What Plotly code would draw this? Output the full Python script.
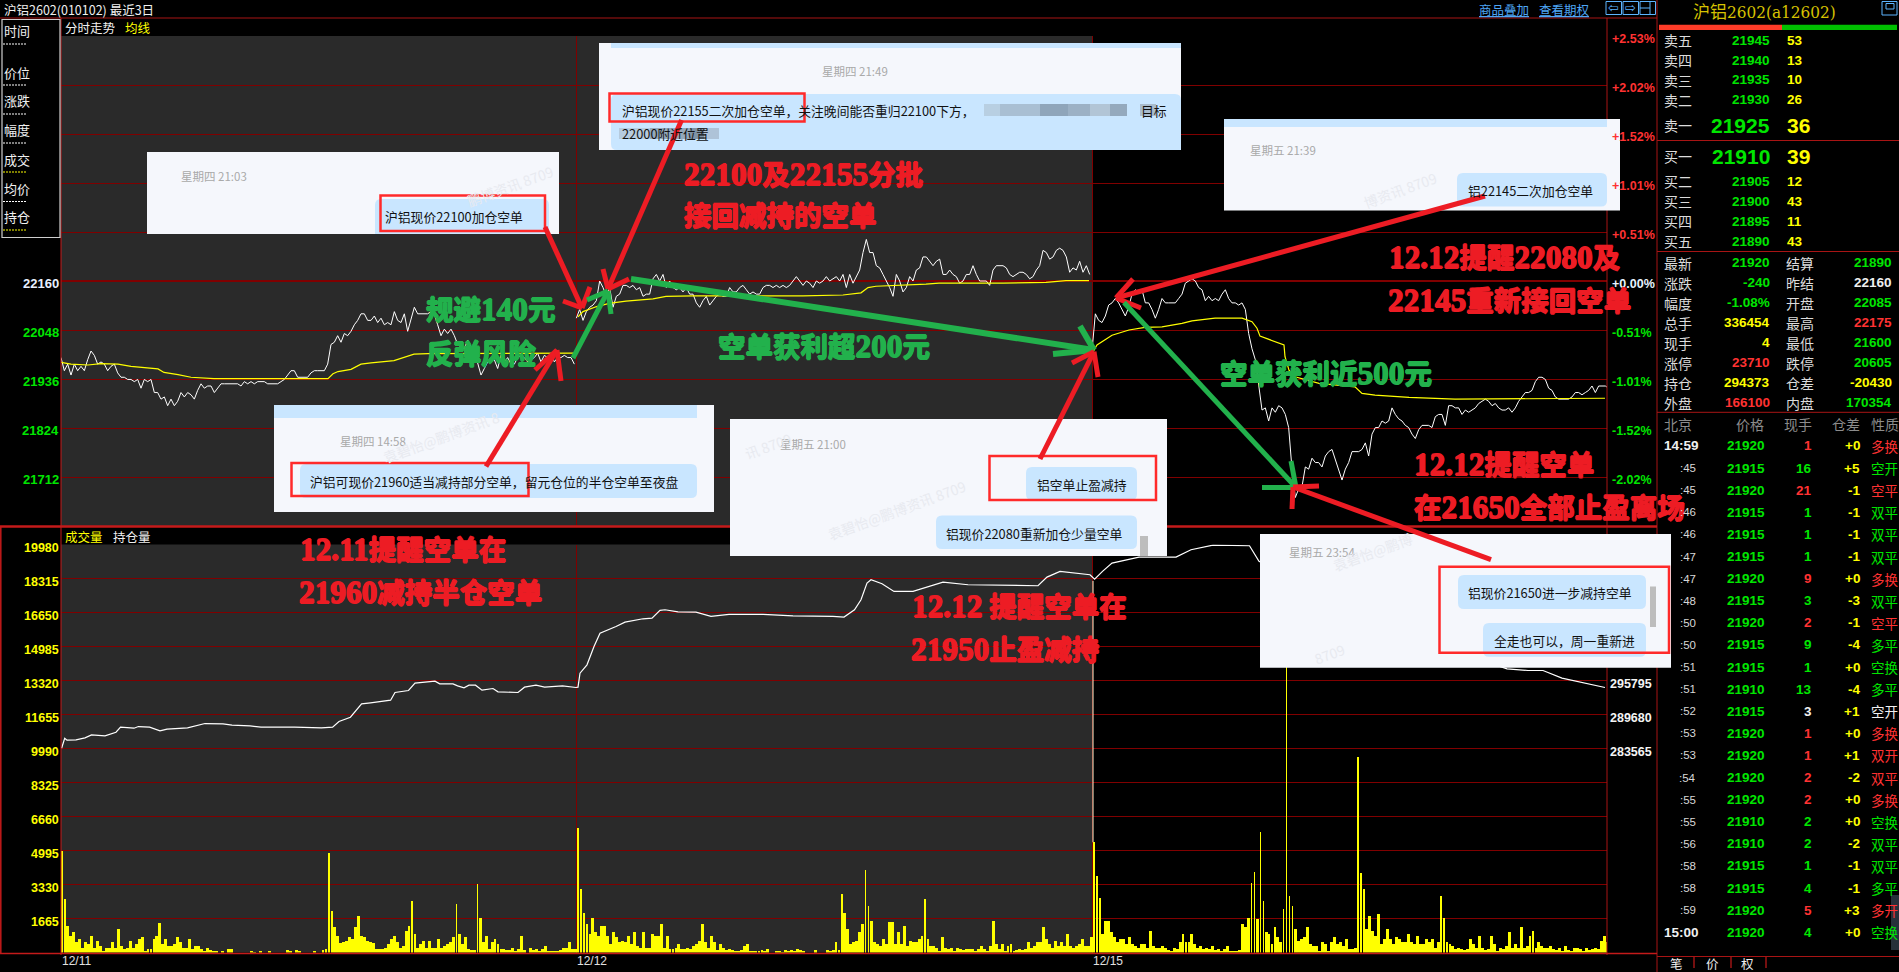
import re
import plotly.graph_objects as go

W, H = 1899, 972
# ---------------- data ----------------
price_d1 = [21985,21955,21970,21945,21970,21955,21965,21955,21980,22000,21990,21970,21975,21970,21955,21965,21970,21950,21940,21940,21935,21935,21930,21935,21915,21935,21930,21935,21905,21905,21890,21895,21875,21890,21875,21885,21905,21895,21905,21900,21890,21910,21925,21915,21920,21920,21905,21915,21925,21925,21925,21925,21925,21925,21920,21930,21925,21930,21925,21930,21930,21930,21925,21925,21925,21925,21930,21935,21945,21955,21955,21940,21940,21940,21940,21950,21955,21955,21955,21955,21970,22015,22020,22035,22020,22040,22035,22045,22060,22070,22085,22085,22070,22070,22080,22065,22075,22060,22065,22060,22090,22070,22065,22085,22045,22070,22100,22085,22085,22085,22085,22090,22085,22060,22035,22050,22040,22050,22035,22015,22010,22005,22025,22010,22000,21970,21945,21960,21975,21980,21980,21960,21990,21975,21985,21970,21970,21985,21990,21985,21975,21980,21985,21995,21975,21990,21985,21995,21975,21985,21985,21990,21985,21985,21970]
price_d2 = [22075,22095,22070,22090,22100,22105,22115,22160,22145,22125,22145,22100,22125,22130,22150,22150,22145,22150,22140,22145,22125,22130,22130,22165,22175,22160,22175,22145,22160,22145,22140,22145,22135,22145,22130,22130,22110,22100,22115,22125,22105,22115,22125,22130,22125,22125,22145,22135,22135,22145,22150,22140,22130,22135,22130,22130,22145,22150,22150,22145,22150,22145,22150,22145,22150,22160,22170,22160,22150,22160,22155,22145,22160,22155,22160,22170,22160,22165,22170,22160,22175,22145,22175,22155,22170,22185,22225,22255,22225,22225,22195,22190,22175,22160,22145,22125,22175,22160,22135,22145,22170,22160,22185,22190,22215,22215,22205,22195,22205,22210,22175,22175,22185,22175,22170,22155,22160,22175,22175,22195,22175,22160,22160,22160,22150,22185,22195,22195,22195,22190,22175,22170,22175,22180,22180,22175,22165,22170,22185,22195,22230,22225,22210,22215,22230,22235,22230,22215,22180,22190,22185,22205,22180,22195,22175]
price_d3 = [22000,22085,22070,22065,22080,22105,22110,22120,22110,22095,22080,22100,22130,22140,22135,22140,22110,22110,22095,22075,22095,22120,22110,22110,22110,22110,22120,22130,22155,22160,22165,22160,22145,22140,22115,22125,22115,22120,22115,22130,22140,22120,22110,22110,22105,22110,22095,22040,22005,21980,21925,21865,21870,21840,21870,21860,21875,21870,21855,21825,21730,21665,21685,21690,21735,21730,21755,21745,21745,21735,21760,21770,21775,21750,21730,21705,21730,21745,21770,21770,21770,21775,21790,21760,21810,21825,21825,21840,21835,21840,21870,21855,21845,21840,21830,21825,21810,21800,21820,21830,21830,21830,21825,21850,21855,21855,21830,21875,21875,21870,21870,21855,21865,21860,21865,21870,21880,21885,21890,21885,21875,21880,21870,21865,21865,21870,21860,21870,21885,21895,21905,21905,21910,21930,21940,21940,21935,21915,21910,21895,21890,21890,21890,21890,21895,21905,21905,21900,21905,21910,21920,21905,21920,21920,21920,21915,21915]

avg_t_d1 = [0,10,27,40,57,70,97,103,117,130,153,267,272,277,290,300,310,333,353,367,513]
avg_d1 = [21974,21970,21968,21971,21970,21965,21959,21951,21946,21940,21937,21937,21948,21953,21958,21970,21973,21978,21993,21994,21995]
avg_t_d2 = [517,522,535,548,565,592,605,632,742,782,800,807,815,828,865,878,942,985,1005,1028]
avg_d2 = [22078,22090,22101,22109,22114,22119,22125,22126,22126,22128,22133,22145,22148,22149,22153,22155,22155,22157,22161,22161]
avg_t_d3 = [1032,1036,1051,1068,1084,1101,1121,1131,1154,1181,1191,1196,1199,1214,1223,1224,1228,1234,1258,1294,1301,1314,1348,1394,1544]
avg_d3 = [21998,22014,22036,22048,22054,22055,22063,22069,22075,22075,22067,22052,22034,22021,22014,21987,21956,21941,21926,21918,21903,21899,21894,21890,21892]

oi_t = [0.6,3.7,6,15,24,30.5,44,55,59.5,73,77.4,88.6,99,106,126.5,144,162,171,189,200,233.6,260.4,271.6,278,289.4,300.6,309.5,318.5,329.6,334,347.5,354,374,378.7,392,396.6,403,408,414.5,421,432,437,457,463.5,475,483.6,501.5,515,
        517,519,526,533,539,555,564,582,591,599,604,617,635,650,668,702,732,772,783,793.5,800,806,810,821,833,852,882,907,968,977,986,999,1029,
        1033.6,1041.5,1051,1078,1115,1130,1152,1188.5,1198,1260,1340,1420,1446,1467,1482,1501,1525,1544]
oi = [283615,285415,285055,285115,285475,286015,285835,286495,287395,287215,287515,287395,286735,287035,287275,288055,287995,287755,287635,287395,287395,287275,287395,288415,289195,291595,291775,292015,292255,293635,293995,295315,295675,295195,295195,294835,294475,294955,294955,294055,294355,293755,293635,294595,294955,294595,294835,294535,
      294595,297115,298615,301915,304315,305515,306295,306895,307015,308395,308515,308155,308095,307315,307675,307675,307435,307315,307195,308515,310315,313315,313915,313195,311815,311815,313495,313015,312835,312835,314395,315415,314815,
      314035,315415,316915,317995,317995,319315,320155,320035,317215,311515,304915,299515,297895,297595,297595,296215,295315,294535]

vol_a = [4995,2610,1300,815,980,490,650,245,490,410,815,245,570,325,80,245,245,490,245,1140,325,160,245,570,245,410,650,735,80,160,160,650,815,1435,410,650,325,325,410,735,490,245,245,650,160,325,325,195,80,245,130,65,80,0,50,0,160,160,0,0,0,0,0,0,80,30,0,80,0,0,50,0,0,0,0,0,130,80,0,130,80,0,0,0,0,80,0,0,130,160,
         4860,2040,1225,815,455,490,570,735,650,1225,1795,815,735,570,490,455,160,195,195,245,410,650,815,490,245,325,1060,1305,2530,900,245,410,570,245,570,245,245,650,245,325,410,490,735,2365,900,410,735,195,130,130,3340,1710,490,815,160,490,650,410,195,195,130,130,245,80,195,815,130,0,245,130,160,80,195,295,80,50,50,80,130,245,245,490,195,160,
         6115,3100,1955,1385,900,1710,980,815,1305,1305,815,410,980,735,490,570,490,815,410,980,325,245,980,245,245,900,815,815,1385,245,815,160,195,245,410,160,160,245,160,325,410,570,1385,490,245,815,490,130,410,245,130,160,130,80,80,130,325,410,80,80,80,50,130,80,160,0,0,80,80,30,130,50,130,80,195,130,50,0,0,0,130,0,0,0,130,80,130]
vol_b = [490,130,2850,1955,1140,410,490,570,980,1385,4040,2280,1550,490,410,325,650,410,1470,1470,410,980,410,1305,325,570,490,490,650,815,2610,650,325,295,245,80,735,245,160,245,80,245,195,130,160,195,160,80,160,325,195,80,325,1550,410,160,410,80,325,410,80,130,195,130,160,490,245,325,490,490,1225,650,410,245,570,325,490,325,900,325,245,325,410,650,325,325,735,
         5400,3750,2690,900,1550,1550,980,735,490,650,650,410,735,410,325,245,410,410,245,1060,325,245,245,325,245,130,80,245,160,490,900,490,490,900,410,245,325,160,245,160,325,130,160,80,195,295,80,50,50,130,1385,1225,1710,3425,3960,1630,5900,2530,980,900,410,1225,735,490,2120,14200,2770,2280,1140,570,650,735,1225,410,325,325,80,490,410,80,490,735,410,490,325,650,160,195,245,9560,3910,3100,1140,1795,1060,815,1875,410,650,1140,650,410,735,650,490,490,900,490,410,815,410,410,650,490,650,245,490,2770,1710,490,410,325,160,245,160,130,160,650,410,245,815,245,130,160,815,410,80,245,195,325,980,245,410,245,1225,245,325,815,1060,245,490,325,245,245,325,195,130,245,80,325,130,80,245,245,160,80,245,130,195,245,160,570,815,490]
open_spike = [5400, 18200]

price_ticks = [22160,22048,21936,21824,21712]
price_grid = [22720,22608,22496,22384,22272,22160,22048,21936,21824,21712,21600]
pct_labels = ["+2.53%","+2.02%","+1.52%","+1.01%","+0.51%","+0.00%","-0.51%","-1.01%","-1.52%","-2.02%"]
vol_ticks = [19980,18315,16650,14985,13320,11655,9990,8325,6660,4995,3330,1665]
oi_ticks = [295795,289680,283565]
day_labels = ["12/11","12/12","12/15"]
day_t = [0,515.33,1031]

ask_labels = ["卖五","卖四","卖三","卖二","卖一"]
ask_prices = ["21945","21940","21935","21930","21925"]
ask_qty = ["53","13","10","26","36"]
bid_labels = ["买一","买二","买三","买四","买五"]
bid_prices = ["21910","21905","21900","21895","21890"]
bid_qty = ["39","12","43","11","43"]
stat_l = ["最新","涨跌","幅度","总手","现手","涨停","持仓","外盘"]
stat_lv = ["21920","-240","-1.08%","336454","4","23710","294373","166100"]
stat_lc = ["g","g","g","y","y","r","y","r"]
stat_r = ["结算","昨结","开盘","最高","最低","跌停","仓差","内盘"]
stat_rv = ["21890","22160","22085","22175","21600","20605","-20430","170354"]
stat_rc = ["g","w","g","r","g","g","y","g"]

tick_time = ["14:59",":45",":45",":46",":46",":47",":47",":48",":50",":50",":51",":51",":52",":53",":53",":54",":55",":55",":56",":58",":58",":59","15:00"]
tick_price = [21920,21915,21920,21915,21915,21915,21920,21915,21920,21915,21915,21910,21915,21920,21920,21920,21920,21910,21910,21915,21915,21920,21920]
tick_qty = [1,16,21,1,1,1,9,3,2,9,1,13,3,1,1,2,2,2,2,1,4,5,4]
tick_qc = "rgrgggrgrgggwrrrrggggrg"
tick_oi = ["+0","+5","-1","-1","-1","-1","+0","-3","-1","-4","+0","-4","+1","+0","+1","-2","+0","+0","-2","-1","-1","+3","+0"]
tick_kind = ["多换","空开","空平","双平","双平","双平","多换","双平","空平","多平","空换","多平","空开","多换","双开","双平","多换","空换","双平","双平","多平","多开","空换"]
tick_kc = "rgrgggrgrgggwrrrrggggrg"

# ---------------- styling ----------------
COL = {"g":"#00e600","r":"#ff3232","y":"#ffff00","w":"#f0f0f0"}
CJK = "Noto Sans CJK SC"
NUM = "Liberation Sans"
GRID = "#800000"
FRAME = "#a81414"
BRIGHT = "#c41a1a"
RED = "#ed1c24"
GREEN = "#22b14c"
BOX = "#f5f7fc"
BUB = "#c9e6ff"
shapes, ann = [], []

def px(x): return x / W
def py(y): return 1 - y / H

def text(x, y, s, size=13, color="#f0f0f0", anchor="left", family=CJK, weight="normal", angle=0, **kw):
    ann.append(dict(xref="paper", yref="paper", x=px(x), y=py(y), text=s, showarrow=False, xanchor=anchor,
                    yanchor="middle", textangle=angle, borderpad=0,
                    font=dict(size=size, color=color, family=family, weight=weight, **kw)))

def rect(x0, y0, x1, y1, fill=None, line=None, lw=0, layer="above"):
    shapes.append(dict(type="rect", xref="paper", yref="paper", x0=px(x0), x1=px(x1), y0=py(y0), y1=py(y1),
                       fillcolor=fill or "rgba(0,0,0,0)", line=dict(color=line or "rgba(0,0,0,0)", width=lw), layer=layer))

def seg(x0, y0, x1, y1, color=FRAME, lw=1, layer="above", dash=None):
    shapes.append(dict(type="line", xref="paper", yref="paper", x0=px(x0), x1=px(x1), y0=py(y0), y1=py(y1),
                       line=dict(color=color, width=lw, dash=dash or "solid"), layer=layer))

def arrow(x0, y0, x1, y1, h1, h2, color, lw=5):
    seg(x0, y0, x1, y1, color, lw)
    seg(h1[0], h1[1], x1, y1, color, lw)
    seg(h2[0], h2[1], x1, y1, color, lw)

def big(x, y, s, color, size=27.5):
    ds = round(size * 1.14, 1)
    html = re.sub(r"([0-9.]+)", lambda m: f'<span style="font-size:{ds}px">{m.group(1)}</span>', s)
    text(x, y, html, size=size, color=color, family=f"Liberation Serif, {CJK}", weight="bold",
         shadow=f"0.7px 0 0 {color}, -0.7px 0 0 {color}, 0 0.7px 0 {color}, 0 -0.7px 0 {color}")

def bubble(x0, y0, x1, y1):
    shapes.append(dict(type="path", xref="paper", yref="paper", layer="above", fillcolor=BUB, line=dict(width=0),
        path=f"M{px(x0+6)},{py(y0)} L{px(x1-6)},{py(y0)} Q{px(x1)},{py(y0)} {px(x1)},{py(y0+6)} L{px(x1)},{py(y1-6)} Q{px(x1)},{py(y1)} {px(x1-6)},{py(y1)} L{px(x0+6)},{py(y1)} Q{px(x0)},{py(y1)} {px(x0)},{py(y1-6)} L{px(x0)},{py(y0+6)} Q{px(x0)},{py(y0)} {px(x0+6)},{py(y0)} Z"))

def mark(x, y, s):
    text(x, y, s, size=14, color="#e8eaf0", anchor="center", angle=-20)

# dark background for the first two sessions
rect(61, 36, 1092, 526, "#2a2a2a", layer="below")
rect(61, 544.5, 1092, 952.5, "#2a2a2a", layer="below")

# frame
seg(0, 18, 1657, 18)
seg(61, 18, 61, 955, BRIGHT, 1)
seg(1607, 18, 1607, 955, FRAME, 1)
seg(1657, 0, 1657, 972, FRAME, 1)
seg(0, 526.5, 1657, 526.5, BRIGHT, 2.5)
seg(0, 953.5, 1657, 953.5, BRIGHT, 1.5)
seg(0.8, 526, 0.8, 953, BRIGHT, 1.5)
seg(61, 281, 1607, 281, GRID, 2, layer="below")

# header
text(3, 9, "沪铝2602(010102) 最近3日", 12.5)
text(64, 28, "分时走势", 12.5)
text(124, 28, "均线", 12.5, "#ffff00")
text(1478, 9, "<u>商品叠加</u>", 12.5, "#4ea6f5")
text(1538, 9, "<u>查看期权</u>", 12.5, "#4ea6f5")
for x0, s in ((1606, "⇦"), (1623, "⇨")):
    rect(x0, 1.5, x0 + 15.5, 14.5, None, "#5db4ff", 1)
    text(x0 + 7.8, 8, s, 13, "#5db4ff", "center", "DejaVu Sans")
rect(1640, 1.5, 1655.5, 14.5, None, "#5db4ff", 1)
seg(1640, 8, 1650, 8, "#5db4ff", 1)
seg(1650, 1.5, 1650, 14.5, "#5db4ff", 1)
text(64, 536, "成交量", 12.5, "#ffff00")
text(112, 536, "持仓量", 12.5)

# left legend box
rect(2, 19.5, 60, 237.5, "#000000", "#cfcfcf", 1.2)
for y, dy, s, c in [(31,44,"时间","#ffffff"),(72,85,"价位","#ffffff"),(101,114,"涨跌","#ffffff"),(129.5,143,"幅度","#ffffff"),
                    (159,172,"成交","#ffff00"),(188,201.5,"均价","#ffffff"),(216,230,"持仓","#ffff00")]:
    text(3, y, s, 13)
    seg(3, dy, 27, dy, c, 1, dash="2px,1px")

# axis labels
for i, v in enumerate(price_ticks):
    ann.append(dict(xref="paper", yref="y", x=px(60), y=v, yshift=-3, text=str(v), showarrow=False, xanchor="right", yanchor="middle",
                    borderpad=0, font=dict(size=13, family=NUM, weight="bold", color="#e8f0ff" if i == 0 else "#00e600")))
for v, s in zip(price_grid, pct_labels):
    c = "#ff3232" if s[0] == "+" and s != "+0.00%" else ("#e8f4ff" if s == "+0.00%" else "#00e600")
    ann.append(dict(xref="paper", yref="y", x=px(1611), y=v, yshift=-3, text=s, showarrow=False, xanchor="left", yanchor="middle",
                    borderpad=0, font=dict(size=12.5, family=NUM, weight="bold", color=c)))
for v in vol_ticks:
    ann.append(dict(xref="paper", yref="y2", x=px(60), y=v, yshift=-3, text=str(v), showarrow=False, xanchor="right", yanchor="middle",
                    borderpad=0, font=dict(size=12.5, family=NUM, weight="bold", color="#ffff00")))
for v in oi_ticks:
    ann.append(dict(xref="paper", yref="y3", x=px(1609), y=v, yshift=-3, text=str(v), showarrow=False, xanchor="left", yanchor="middle",
                    borderpad=0, font=dict(size=12.5, family=NUM, weight="bold", color="#f4f4f4")))
for t, s in zip(day_t, day_labels):
    ann.append(dict(xref="x", yref="paper", x=t, y=py(961), text=s, showarrow=False, xanchor="left", yanchor="middle",
                    borderpad=0, font=dict(size=12, family=NUM, color="#e0e0e0")))

# ---------- chat boxes ----------
# A 21:03
rect(147, 152, 559, 234, BOX)
bubble(375, 199, 549, 234)
rect(375, 226, 549, 234, BUB)
rect(380.5, 195.5, 545, 231, None, "#ff2a2a", 2.5)
text(180, 176, "星期四 21:03", 11.5, "#a9a9a9")
text(384, 216, "沪铝现价22100加仓空单", 12.8, "#111111")
mark(510, 186, "鹏博资讯 8709")
# B 21:49
rect(599, 43, 1181, 150, BOX)
rect(611, 43, 1181, 48, BUB)
bubble(611, 94, 1181, 150)
rect(1170, 120, 1181, 150, BUB)
text(855, 71, "星期四 21:49", 11.5, "#a9a9a9", "center")
text(621, 111, "沪铝现价22155二次加仓空单，关注晚间能否重归22100下方，", 12.8, "#111111")
text(1140, 111, "目标", 12.8, "#111111")
text(621, 133, "22000附近位置", 12.8, "#111111")
for x0, x1, c in [(984,1000,"#b8cfe2"),(1000,1040,"#a9bfd3"),(1040,1068,"#8fa5ba"),(1068,1090,"#9cb1c5"),(1090,1110,"#b2c5d6"),(1110,1127,"#94a9bd"),(1140,1156,"#a9bccd")]:
    rect(x0, 104, x1, 116, c)
for x0, x1, c in [(619,650,"#b6cbde"),(650,690,"#94a8bb"),(690,704,"#7f93a6"),(704,719,"#aec3d8")]:
    rect(x0, 128, x1, 139, c)
rect(609.5, 93.5, 804.5, 121.5, None, "#ff2a2a", 2.5)
# C 21:39
rect(1224, 119, 1620, 210.6, BOX)
rect(1224, 119, 1607, 127, BUB)
bubble(1457, 173, 1607, 206.6)
text(1249, 150, "星期五 21:39", 11.5, "#a9a9a9")
text(1467, 190, "铝22145二次加仓空单", 12.8, "#111111")
mark(1400, 190, "博资讯 8709")
# D 14:58
rect(274, 405, 714, 512, BOX)
rect(274, 405, 697, 418, BUB)
bubble(300, 464, 697, 498)
text(339, 441, "星期四 14:58", 11.5, "#a9a9a9")
text(309, 481, "沪铝可现价21960适当减持部分空单，留元仓位的半仓空单至夜盘", 12.8, "#111111")
rect(291.5, 463, 528.5, 496, None, "#ff2a2a", 2.5)
mark(441, 437, "袁碧怡@鹏博资讯 8")
# E 21:00
rect(730, 419, 1167, 556, BOX)
bubble(1026, 467, 1137, 500)
bubble(936, 515.5, 1137, 549)
text(779, 444, "星期五 21:00", 11.5, "#a9a9a9")
text(1036, 484, "铝空单止盈减持", 12.8, "#111111")
text(945, 533, "铝现价22080重新加仓少量空单", 12.8, "#111111")
rect(989.5, 456, 1156, 500, None, "#ff2a2a", 2.5)
rect(1140, 536, 1148, 556, "#bdbdbd")
mark(897, 510, "袁碧怡@鹏博资讯 8709")
mark(768, 446, "讯 8709")
# F 23:54
rect(1260, 534, 1671, 667.7, BOX)
bubble(1458, 575, 1646, 609)
bubble(1483, 623, 1646, 656.7)
text(1287.5, 552, "星期五 23:54", 11.5, "#a9a9a9")
text(1467, 592, "铝现价21650进一步减持空单", 12.8, "#111111")
text(1493, 640, "全走也可以，周一重新进", 12.8, "#111111")
rect(1650, 586.5, 1656, 627, "#bdbdbd")
rect(1439.5, 566.7, 1669, 652.7, None, "#ff2a2a", 2.5)
mark(1372, 552, "袁碧怡@鹏博")
mark(1329, 654, "8709")

# ---------- arrows ----------
arrow(545,227, 582,308, (563,301),(590,287), RED)
arrow(681.6,120, 608,289, (603,269),(629,279), RED)
arrow(573,358, 608,291, (587,300),(611,314), GREEN)
arrow(486,466.5, 557,350, (535,370),(561,381), RED)
arrow(631,279, 1094,350, (1080,326),(1053,354), GREEN, 6)
arrow(1040,459, 1094,351.6, (1072,363),(1098,377), RED)
arrow(1485,196, 1116,298, (1133,279),(1141,308), RED)
arrow(1124,302.5, 1296,487.5, (1291,461),(1262,487.5), GREEN)
arrow(1491,559.6, 1293,487, (1319,486),(1292,509), RED)

# ---------- big captions ----------
big(683, 174, "22100及22155分批", RED)
big(683, 216, "接回减持的空单", RED)
big(425, 310, "规避140元", GREEN)
big(425, 354, "反弹风险", GREEN)
big(717, 346.5, "空单获利超200元", GREEN)
big(1219, 373, "空单获利近500元", GREEN)
big(1388, 257, "12.12提醒22080及", RED)
big(1387, 300, "22145重新接回空单", RED)
big(1413, 464, "12.12提醒空单", RED)
big(1413, 508, "在21650全部止盈离场", RED)
big(299, 549, "12.11提醒空单在", RED)
big(298, 592.7, "21960减持半仓空单", RED)
big(911, 606.7, "12.12 提醒空单在", RED)
big(910, 649, "21950止盈减持", RED)

# ---------- right quote panel ----------
text(1692, 12, "沪铝2602(a12602)", 17, "#d6c200", family=f"DejaVu Serif Condensed, {CJK}")
rect(1882, 1.5, 1897, 15, None, "#5db4ff", 1)
rect(1886, 3.5, 1894, 9, None, "#5db4ff", 1)
rect(1659, 24.7, 1782, 30, "#ff3c28")
rect(1782, 24.7, 1897, 30, "#00c000")
seg(1657, 140.5, 1899, 140.5)
seg(1657, 251.5, 1899, 251.5)
seg(1657, 412.3, 1899, 412.3)
seg(1657, 956.5, 1899, 956.5)
ask_y = [40,60,80,100,125]
bid_y = [156,181,201,221,241]
for ys, ls, ps, qs in ((ask_y, ask_labels, ask_prices, ask_qty), (bid_y, bid_labels, bid_prices, bid_qty)):
    for y, l, p, q in zip(ys, ls, ps, qs):
        large = l in ("卖一", "买一")
        text(1663, y, l, 14, "#dcdcdc")
        text(1771, y, p, 21 if large else 13.5, COL["g"], "right", NUM, "bold")
        text(1786, y, q, 21 if large else 13.5, COL["y"], "left", NUM, "bold")
for i in range(8):
    y = 262.7 + 20 * i
    text(1663, y, stat_l[i], 14, "#dcdcdc")
    text(1771, y, stat_lv[i], 13.5, COL[stat_lc[i]], "right", NUM, "bold")
    text(1785, y, stat_r[i], 14, "#dcdcdc")
    text(1893, y, stat_rv[i], 13.5, COL[stat_rc[i]], "right", NUM, "bold")
for x, s, a in [(1663,"北京","left"),(1765,"价格","right"),(1813,"现手","right"),(1861,"仓差","right"),(1870,"性质","left")]:
    text(x, 424.4, s, 14, "#8c8c8c", a)
for i in range(23):
    y = 446 + 22.1 * i
    t = tick_time[i]
    if t[0] == ":":
        text(1697, y, t, 11.5, "#d8d8d8", "right", NUM)
    else:
        text(1663, y, t, 13.5, "#f0f0f0", "left", NUM, "bold")
    text(1766, y, str(tick_price[i]), 13.5, COL["g"], "right", NUM, "bold")
    text(1813, y, str(tick_qty[i]), 13.5, COL[tick_qc[i]], "right", NUM, "bold")
    text(1861, y, tick_oi[i], 13.5, COL["y"], "right", NUM, "bold")
    text(1870, y, tick_kind[i], 13.5, COL[tick_kc[i]])
rect(1891, 895, 1899, 950, "#26303a")
for x, s in [(1676,"笔"),(1712,"价"),(1747,"权")]:
    text(x, 963, s, 12.5, "#eeeeee", "center")
for x in (1694, 1731, 1766):
    seg(x, 957, x, 968, BRIGHT, 1.2)

# ---------- traces ----------
STEP = 10 / 3
fig = go.Figure()
for off, series in ((0, price_d1), (515.33, price_d2), (1031, price_d3)):
    fig.add_trace(go.Scatter(x=[off + i * STEP for i in range(len(series))], y=series, mode="lines",
                             line=dict(color="#ffffff", width=1), yaxis="y", hoverinfo="skip"))
for tt, yy in ((avg_t_d1, avg_d1), (avg_t_d2, avg_d2), (avg_t_d3, avg_d3)):
    fig.add_trace(go.Scatter(x=tt, y=yy, mode="lines", line=dict(color="#ffff00", width=1.2), yaxis="y", hoverinfo="skip"))
VSTEP = 2.966
def bar_w(v):
    return [1.2 if a > 2000 else 2.9 for a in v]
fig.add_trace(go.Bar(x=[i * VSTEP + 1 for i in range(len(vol_a))], y=vol_a, width=bar_w(vol_a), marker=dict(color="#ffff00", line=dict(width=0)), yaxis="y2", hoverinfo="skip"))
fig.add_trace(go.Bar(x=[775 + i * VSTEP for i in range(len(vol_b))], y=vol_b, width=bar_w(vol_b), marker=dict(color="#ffff00", line=dict(width=0)), yaxis="y2", hoverinfo="skip"))
fig.add_trace(go.Scatter(x=[1032, 1032], y=open_spike, mode="lines", line=dict(color="#ffffd8", width=1), yaxis="y2", hoverinfo="skip"))
fig.add_trace(go.Scatter(x=oi_t, y=oi, mode="lines", line=dict(color="#ffffff", width=1.2), yaxis="y3", hoverinfo="skip"))

fig.update_layout(
    width=W, height=H, margin=dict(l=0, r=0, t=0, b=0), showlegend=False, bargap=0,
    paper_bgcolor="#000000", plot_bgcolor="rgba(0,0,0,0)",
    xaxis=dict(domain=[px(61), px(1607)], range=[0, 1546], showticklabels=False, ticks="", zeroline=False, showline=False,
               tickmode="array", tickvals=day_t[1:], showgrid=True, gridcolor=GRID, gridwidth=1, anchor="y2", fixedrange=True),
    yaxis=dict(domain=[py(526), py(36)], range=[21600, 22720], tickmode="array", tickvals=price_grid, showticklabels=False, ticks="",
               showgrid=True, gridcolor=GRID, gridwidth=1, zeroline=False, showline=False, anchor="x", fixedrange=True),
    yaxis2=dict(domain=[py(952.5), py(544.5)], range=[0, 19980], tickmode="array", tickvals=vol_ticks, showticklabels=False, ticks="",
                showgrid=True, gridcolor=GRID, gridwidth=1, zeroline=False, showline=False, anchor="x", fixedrange=True),
    yaxis3=dict(domain=[py(952.5), py(544.5)], overlaying="y2", range=[246875, 320255], showticklabels=False, ticks="", showgrid=False,
                zeroline=False, showline=False, anchor="x", fixedrange=True),
    shapes=shapes, annotations=ann,
)
fig.write_html("out.html", config=dict(displayModeBar=False, staticPlot=True),
               post_script="document.body.style.margin='0';document.body.style.overflow='hidden';")
